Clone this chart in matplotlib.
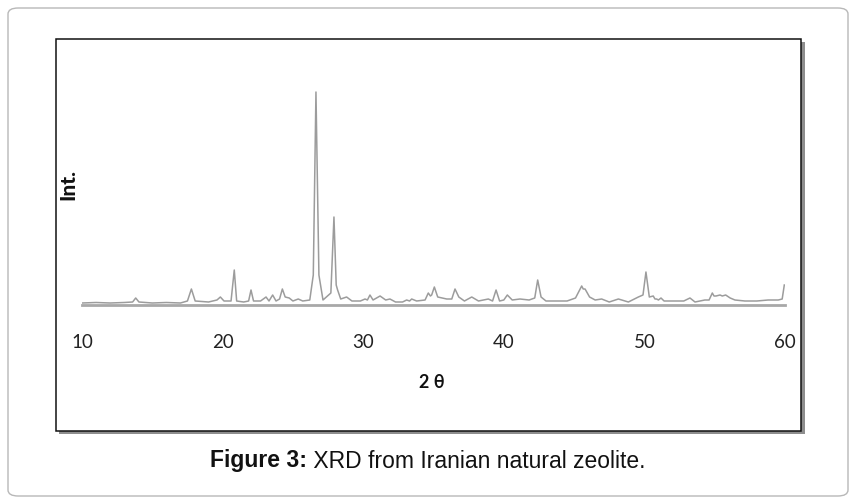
import numpy as np
import matplotlib
matplotlib.use("Agg")
from matplotlib import pyplot as plt
from matplotlib.patches import Rectangle, FancyBboxPatch

# XRD trace (2 theta in degrees, intensity in arbitrary units)
two_theta = [10.0, 11.0, 12.0, 13.0, 13.6, 13.82, 14.05, 15.0, 16.0, 17.0,
             17.5, 17.78, 18.05, 19.0, 19.6, 19.84, 20.1, 20.6, 20.83, 21.0,
             21.5, 21.85, 22.02, 22.2, 22.7, 23.09, 23.3, 23.56, 23.8, 24.05,
             24.25, 24.45, 24.74, 25.0, 25.38, 25.7, 26.2, 26.45, 26.64, 26.85,
             27.14, 27.7, 27.92, 28.08, 28.18, 28.4, 28.82, 29.2, 29.8, 30.13,
             30.3, 30.48, 30.7, 31.2, 31.6, 31.9, 32.3, 32.8, 33.09, 33.3,
             33.45, 33.8, 34.4, 34.63, 34.78, 34.87, 35.06, 35.3, 35.94, 36.3,
             36.53, 36.8, 37.2, 37.72, 38.2, 38.9, 39.2, 39.45, 39.7, 40.0,
             40.25, 40.6, 41.15, 41.8, 42.2, 42.41, 42.65, 43.0, 43.5, 44.5,
             45.1, 45.54, 45.65, 45.78, 46.1, 46.5, 46.96, 47.5, 48.15, 48.86,
             49.57, 49.9, 50.11, 50.35, 50.63, 50.75, 50.87, 51.0, 51.18, 51.4,
             51.94, 52.8, 53.24, 53.6, 54.3, 54.6, 54.83, 54.95, 55.09, 55.38,
             55.54, 55.78, 56.1, 56.44, 57.15, 58.0, 58.8, 59.52, 59.8, 59.95]
intensity = [2, 2.5, 2, 2.5, 3, 7, 3, 2, 2.5, 2,
             4, 16, 4, 3, 5, 8, 4, 4, 35, 4,
             3, 4, 15, 4, 4, 8, 4, 10, 4, 6,
             16, 8, 7, 4, 6, 4, 5, 30, 213, 30,
             5, 12, 88, 20, 15, 6, 8, 4, 4, 6,
             5, 10, 5, 9, 5, 6, 3, 3, 5, 4,
             6, 4, 5, 12, 9, 10, 18, 8, 6, 6,
             16, 8, 4, 8, 4, 6, 4, 15, 4, 5,
             10, 5, 6, 5, 7, 25, 8, 4, 4, 4,
             7, 19, 16, 16, 8, 5, 6, 3, 6, 3,
             8, 10, 33, 8, 9, 6, 6, 5, 7, 4,
             4, 4, 7, 3, 5, 5, 12, 9, 9, 10,
             9, 10, 7, 5, 4, 4, 5, 5, 6, 20]

x_ticks = [10, 20, 30, 40, 50, 60]

W, H = 856, 501
fig = plt.figure(figsize=(W / 100, H / 100), dpi=100)
fig.patch.set_facecolor("white")

# outer rounded frame
outer = FancyBboxPatch((8 / W, 5 / H), 840 / W, 488 / H,
                       boxstyle="round,pad=0,rounding_size=0.012",
                       transform=fig.transFigure, fill=False,
                       edgecolor="#b8b8b8", linewidth=1.0)
fig.patches.append(outer)

# inner box with a soft shadow
shadow = Rectangle(((56 + 3) / W, (H - 431 - 3) / H), 746 / W, 392 / H,
                   transform=fig.transFigure, facecolor="#8e8e8e",
                   edgecolor="none", zorder=0)
box = Rectangle((56 / W, (H - 431) / H), 745 / W, 392 / H,
                transform=fig.transFigure, facecolor="white",
                edgecolor="#111111", linewidth=1.1, zorder=1)
fig.patches.extend([shadow, box])

ax = fig.add_axes([82 / W, (H - 305) / H, 703 / W, 245 / H])
ax.set_facecolor("none")
ax.set_zorder(2)
ax.plot(two_theta, intensity, color="#9c9c9c", linewidth=1.1)
ax.set_xlim(10, 60)
ax.set_ylim(0, 245)
for s in ["top", "right", "left"]:
    ax.spines[s].set_visible(False)
ax.spines["bottom"].set_color("#a8a8a8")
ax.spines["bottom"].set_linewidth(2.0)
ax.set_yticks([])
ax.set_xticks(x_ticks)
ax.set_xticklabels([str(t) for t in x_ticks], family="Lato", fontsize=13.5, color="#222222")
ax.tick_params(axis="x", length=0, pad=21)

fig.text(432 / W, 1 - 383 / H, "2 \u03b8", family="Lato", fontweight="bold",
         fontsize=13, ha="center", va="center", color="#111111")
fig.text(68 / W, 1 - 185 / H, "Int.", family="Lato", fontweight="black",
         fontsize=15, rotation=90, ha="center", va="center", color="#111111")

# caption: bold lead-in followed by normal text
r = fig.canvas.get_renderer()
cap_y = 1 - 461 / H
t1 = fig.text(0, cap_y, "Figure 3:", family="Liberation Sans", fontweight="bold",
              fontsize=16.5, ha="left", va="center", color="#111111")
t2 = fig.text(0, cap_y, " XRD from Iranian natural zeolite.", family="Liberation Sans",
              fontsize=16.5, ha="left", va="center", color="#111111")
w1 = t1.get_window_extent(r).width
w2 = t2.get_window_extent(r).width
x0 = (428 - (w1 + w2) / 2) / W
t1.set_x(x0)
t2.set_x(x0 + w1 / W)

fig.savefig("out.png", dpi=100)
